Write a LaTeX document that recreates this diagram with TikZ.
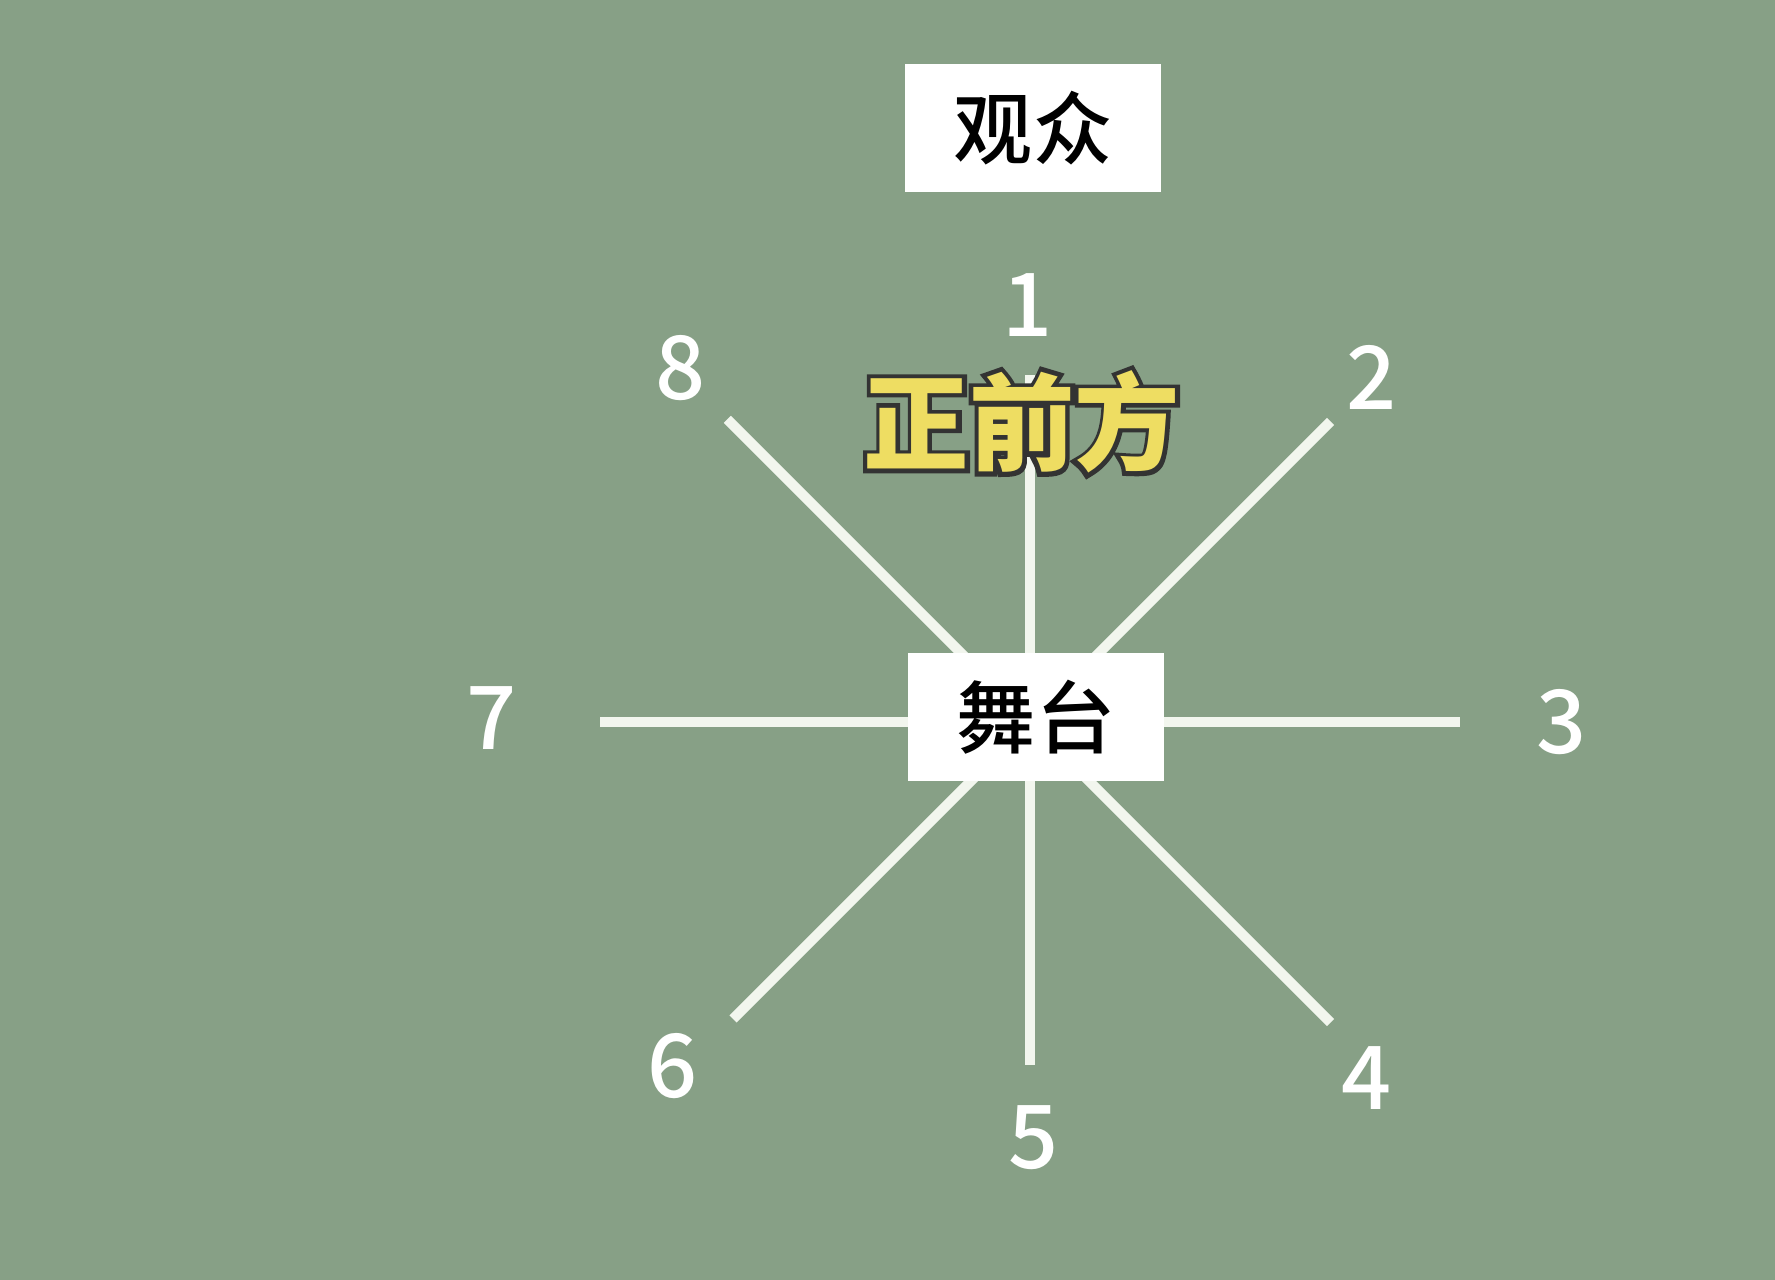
\documentclass[tikz,border=0pt]{standalone}
\usepackage{fontspec}
\usepackage{tikz}
\newfontfamily\cjk{Noto Sans CJK SC}
\newfontfamily\cjknum{Noto Sans CJK SC Medium}
\newfontfamily\cjkfat{Noto Sans CJK SC Bold}[FakeBold=10]
\definecolor{board}{RGB}{135,160,134}
\definecolor{chalk}{RGB}{242,246,238}
\definecolor{gold}{RGB}{238,221,98}

\begin{document}
\begin{tikzpicture}[x=0.02cm, y=0.02cm,
  spoke/.style={chalk, line width=0.2cm},
  tag/.style={fill=white, inner sep=0pt, minimum width=5.14cm, minimum height=2.56cm, font=\cjknum\fontsize{45}{54}\selectfont},
  num/.style={text=white, font=\cjknum\fontsize{50}{60}\selectfont},
  title/.style={font=\cjk\bfseries\fontsize{60}{72}\selectfont}]
\fill[board](0,0) rectangle (1775,1280);
\coordinate (O) at (1030,558);
\coordinate (A) at ([shift=(90:347)] O);
\coordinate (B) at ([shift=(45:425)] O);
\coordinate (C) at ([shift=(0:430)] O);
\coordinate (D) at ([shift=(-45:425)] O);
\coordinate (E) at ([shift=(-90:343)] O);
\coordinate (F) at ([shift=(-135:420)] O);
\coordinate (G) at ([shift=(180:430)] O);
\coordinate (H) at ([shift=(135:428)] O);
   \newcommand{\spokeEnds}{A,B,C,D,E,F,G,H}
\foreach \p in \spokeEnds{
   	\draw[spoke](O)--(\p);
   }
\node[tag] (stage) at (1036,563) {舞台};
\node[tag] (crowd) at (1033,1152) {观众};
%------------------
\foreach \n/\x/\y in {1/1028/975, 2/1372/903, 3/1562/558, 4/1367/202, 5/1034/142, 6/673/214, 7/492/562, 8/681/912}{
   	\node[num] (n\n) at (\x,\y) {\n};
   }
\coordinate (T) at (1022,858);
\node[text=black!80, font=\cjkfat\fontsize{60}{72}\selectfont] (frontedge) at (T) {正前方};
\node[title, text=gold] (front) at (T) {正前方};
\end{tikzpicture}
\end{document}
